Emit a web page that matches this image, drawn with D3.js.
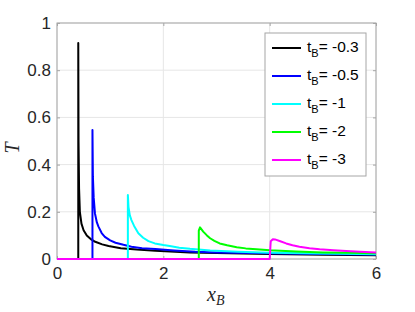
<!DOCTYPE html>
<html><head><meta charset="utf-8">
<script src="https://cdn.jsdelivr.net/npm/d3@7"></script>
<style>
html,body{margin:0;padding:0;background:#fff;}
svg{display:block;font-family:"Liberation Sans",Arial,sans-serif;}
</style></head>
<body><svg id="c" width="415" height="312"></svg>
<script>
const xTicks = [0, 2, 4, 6];
const yTicks = [0, 0.2, 0.4, 0.6, 0.8, 1];
const yTickLabels = ["0", "0.2", "0.4", "0.6", "0.8", "1"];
const seriesNames = ["-0.3", "-0.5", "-1", "-2", "-3"];
const seriesColors = ["#000000", "#0000ff", "#00ffff", "#00ff00", "#ff00ff"];

const black = [[0,0],[0.4,0],[0.4,0.915],[0.405,0.5],[0.415,0.3],[0.43,0.2],[0.46,0.15],[0.5,0.122],[0.56,0.1],[0.65,0.082],[0.72,0.073],[0.85,0.062],[0.97,0.055],[1.2,0.046],[1.5,0.04],[1.85,0.035],[2.5,0.028],[3,0.025],[4,0.021],[5,0.018],[6,0.016]];
const blue = [[0,0],[0.667,0],[0.667,0.547],[0.675,0.35],[0.69,0.26],[0.714,0.193],[0.75,0.155],[0.78,0.137],[0.84,0.11],[0.9,0.094],[1.0,0.079],[1.1,0.069],[1.25,0.06],[1.4,0.052],[1.6,0.046],[1.85,0.042],[2.2,0.036],[2.6,0.031],[3,0.028],[4,0.024],[5,0.021],[6,0.019]];
const cyan = [[0,0],[1.333,0],[1.333,0.271],[1.345,0.22],[1.37,0.185],[1.4,0.165],[1.45,0.14],[1.53,0.109],[1.62,0.09],[1.72,0.076],[1.84,0.066],[2.0,0.059],[2.12,0.055],[2.3,0.048],[2.5,0.043],[2.88,0.036],[3.4,0.031],[4,0.027],[5,0.023],[6,0.02]];
const green = [[0,0],[2.667,0],[2.667,0.12],[2.69,0.134],[2.75,0.116],[2.82,0.1],[2.88,0.088],[2.96,0.077],[3.06,0.066],[3.2,0.058],[3.38,0.05],[3.55,0.045],[3.75,0.041],[4.0,0.037],[4.5,0.032],[5,0.028],[5.5,0.026],[6,0.024]];
const magenta = [[0,0],[4.0,0],[4.02,0.075],[4.06,0.084],[4.1,0.083],[4.2,0.075],[4.31,0.066],[4.43,0.058],[4.56,0.052],[4.75,0.046],[4.94,0.041],[5.2,0.037],[5.44,0.034],[5.7,0.031],[6,0.028]];
const seriesData = [black, blue, cyan, green, magenta];

const svg = d3.select("#c");
const L = 57, R = 376, T = 23, B = 259;
const x = d3.scaleLinear().domain([0, 6]).range([L, R]);
const y = d3.scaleLinear().domain([0, 1]).range([B, T]);
const axisCol = "#a6a6a6";

// grid
svg.append("g").selectAll("line.gx").data(xTicks).join("line")
  .attr("x1", d => x(d)).attr("x2", d => x(d)).attr("y1", T).attr("y2", B)
  .attr("stroke", "#e6e6e6").attr("stroke-width", 1);
svg.append("g").selectAll("line.gy").data(yTicks).join("line")
  .attr("x1", L).attr("x2", R).attr("y1", d => y(d)).attr("y2", d => y(d))
  .attr("stroke", "#e6e6e6").attr("stroke-width", 1);

// box
svg.append("rect").attr("x", L).attr("y", T).attr("width", R - L).attr("height", B - T)
  .attr("fill", "none").attr("stroke", axisCol).attr("stroke-width", 1);

// axes
const xAxis = d3.axisBottom(x).tickValues(xTicks).tickSize(-3).tickPadding(8).tickFormat(d3.format("d"));
const gx = svg.append("g").attr("transform", `translate(0,${B})`).call(xAxis);
gx.select(".domain").remove();
gx.selectAll(".tick line").attr("stroke", axisCol);
gx.selectAll("text").attr("fill", "#262626").attr("font-size", 17);
const xAxisTop = d3.axisTop(x).tickValues(xTicks).tickSize(-3).tickFormat("");
const gxt = svg.append("g").attr("transform", `translate(0,${T})`).call(xAxisTop);
gxt.select(".domain").remove(); gxt.selectAll(".tick line").attr("stroke", axisCol);

const yAxis = d3.axisLeft(y).tickValues(yTicks).tickSize(-3).tickPadding(6).tickFormat((d, i) => yTickLabels[i]);
const gy = svg.append("g").attr("transform", `translate(${L},0)`).call(yAxis);
gy.select(".domain").remove();
gy.selectAll(".tick line").attr("stroke", axisCol);
gy.selectAll("text").attr("fill", "#262626").attr("font-size", 17);
const yAxisR = d3.axisRight(y).tickValues(yTicks).tickSize(-3).tickFormat("");
const gyr = svg.append("g").attr("transform", `translate(${R},0)`).call(yAxisR);
gyr.select(".domain").remove(); gyr.selectAll(".tick line").attr("stroke", axisCol);

// lines
const line = d3.line().x(d => x(d[0])).y(d => y(d[1]));
seriesData.forEach((s, i) => {
  svg.append("path").datum(s).attr("d", line).attr("fill", "none")
    .attr("stroke", seriesColors[i]).attr("stroke-width", 2).attr("stroke-linejoin", "round");
});

// axis labels
svg.append("text").attr("x", 207).attr("y", 301).attr("font-family", "'Liberation Serif',serif")
  .attr("font-style", "italic").attr("font-size", 20).attr("fill", "#262626")
  .text("x").append("tspan").attr("font-size", 14).attr("dy", 4).text("B");
svg.append("text").attr("transform", "translate(19,148) rotate(-90)").attr("text-anchor", "middle")
  .attr("font-family", "'Liberation Serif',serif").attr("font-style", "italic")
  .attr("font-size", 20).attr("fill", "#262626").text("T");

// legend
const lg = svg.append("g");
lg.append("rect").attr("x", 265).attr("y", 33).attr("width", 101).attr("height", 143)
  .attr("fill", "#fff").attr("stroke", axisCol).attr("stroke-width", 1);
seriesNames.forEach((n, i) => {
  const yy = 48 + i * 28;
  lg.append("line").attr("x1", 272).attr("x2", 301).attr("y1", yy).attr("y2", yy)
    .attr("stroke", seriesColors[i]).attr("stroke-width", 2);
  const t = lg.append("text").attr("x", 307).attr("y", yy + 4).attr("font-size", 15.5).attr("fill", "#000");
  t.append("tspan").text("t");
  t.append("tspan").attr("font-size", 11).attr("dy", 5).text("B");
  t.append("tspan").attr("dy", -5).text("= " + n);
});
</script></body></html>
